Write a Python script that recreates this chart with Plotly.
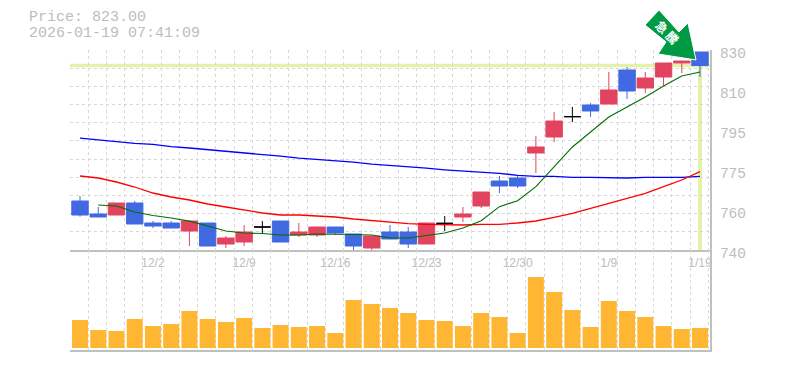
import plotly.graph_objects as go

# ---- data --------------------------------------------------------------
session = list(range(35))
open_px = [762.05, 756.2, 755.75, 761.15, 752.15, 752.15, 748.55, 752.15, 742.7, 743.6, 750.35, 753.05,
           746.75, 746.75, 750.35, 747.2, 740.9, 748.1, 748.1, 742.7, 752.0, 754.85, 759.8, 771.05,
           772.4, 783.65, 790.85, 800.0, 805.25, 805.7, 821.0, 812.9, 817.85, 824.15, 829.1]
high_px = [764.3, 759.35, 761.15, 762.05, 753.05, 753.05, 753.05, 752.15, 746.3, 751.25, 753.05, 753.05,
           752.15, 750.35, 750.35, 747.2, 746.3, 751.25, 750.35, 752.15, 755.3, 759.35, 766.1, 773.3,
           773.75, 791.3, 802.1, 804.35, 806.15, 820.1, 822.35, 820.1, 824.15, 825.05, 829.1]
low_px = [755.0, 754.85, 755.75, 751.7, 749.9, 749.9, 741.8, 741.8, 740.9, 741.8, 747.65, 743.6,
          745.85, 745.85, 746.75, 740.0, 740.0, 744.95, 740.9, 742.7, 748.55, 752.6, 758.9, 765.65,
          767.9, 774.65, 788.6, 797.6, 799.85, 805.7, 807.95, 810.65, 813.8, 819.65, 817.85]
close_px = [755.75, 754.85, 761.15, 751.7, 750.8, 749.9, 753.05, 741.8, 745.4, 748.1, 750.35, 743.6,
            748.1, 750.35, 747.65, 741.8, 746.3, 744.95, 742.7, 752.15, 752.0, 756.2, 766.1, 768.8,
            768.8, 786.35, 798.05, 800.0, 802.55, 812.0, 811.55, 817.4, 824.15, 825.05, 823.0]
volume = [28, 18, 17, 29, 22, 24, 37, 29, 26, 30, 20, 23, 21, 22, 15, 48, 44, 40,
          35, 28, 27, 22, 35, 31, 15, 71, 56, 38, 21, 47, 37, 31, 22, 19, 20]
ma_short = [None, 760.25, 759.8, 757.1, 755.5, 754.4, 753.0, 750.8, 748.55, 747.65, 747.4, 746.75,
            746.75, 747.2, 747.2, 747.0, 746.75, 745.4, 745.4, 746.6, 747.65, 749.9, 753.2, 759.5,
            762.2, 768.5, 777.5, 786.35, 793.1, 799.85, 804.35, 808.85, 813.8, 818.3, 820.1]
ma_mid = [773.3, 772.4, 770.6, 768.35, 765.65, 763.85, 762.5, 760.7, 759.35, 758.0, 756.65, 755.75,
          755.75, 755.3, 754.85, 753.95, 753.3, 752.4, 751.9, 751.5, 751.25, 751.25, 751.5, 751.55,
          752.15, 753.05, 754.7, 756.5, 758.75, 761.0, 763.25, 765.5, 768.5, 771.5, 775.25]
ma_long = [790.3, 789.5, 788.8, 788.0, 787.5, 786.5, 785.9, 785.2, 784.4, 783.5, 783.1, 782.2,
           781.3, 780.8, 780.05, 779.5, 778.6, 778.1, 777.35, 776.8, 776.1, 775.55, 775.0, 774.5,
           773.6, 773.15, 773.15, 772.7, 772.7, 772.4, 772.4, 772.7, 772.7, 772.7, 773.15]
date_idx = [4, 9, 14, 19, 24, 29, 34]
date_txt = ["12/2", "12/9", "12/16", "12/23", "12/30", "1/9", "1/19"]
price_ticks = [740, 758, 776, 794, 812, 830]
price_text = ["740", "760", "775", "795", "810", "830"]
last_price = 823.0
last_idx = 34

RED, BLUE = "#e24460", "#4169e1"
GRID, AXIS, TXT = "#d8d8d8", "#c0c0c0", "#bdbdbd"
HILITE = "#e2f2a8"
L, R, T, B = 70, 75, 50, 20
W, H = 785, 370


def px(x, y):
    return (x - L) / (W - L - R), (H - B - y) / (H - T - B)


def poly(points):
    c = [px(*p) for p in points]
    return "M" + " L".join(f"{a:.5f},{b:.5f}" for a, b in c) + " Z"


doji = [i for i in session if open_px[i] == close_px[i]]
real = [i for i in session if open_px[i] != close_px[i]]

fig = go.Figure()
for vals, col, wd in [(ma_long, "#0000ff", 1.3), (ma_mid, "#ff0000", 1.3), (ma_short, "#006e00", 1.1)]:
    fig.add_trace(go.Scatter(x=session, y=vals, mode="lines", line=dict(color=col, width=wd),
                             xaxis="x", yaxis="y", connectgaps=False))
fig.add_trace(go.Candlestick(
    x=[session[i] for i in real], open=[open_px[i] for i in real], high=[high_px[i] for i in real],
    low=[low_px[i] for i in real], close=[close_px[i] for i in real],
    increasing=dict(line=dict(color=RED, width=1), fillcolor=RED),
    decreasing=dict(line=dict(color=BLUE, width=1), fillcolor=BLUE),
    whiskerwidth=0, xaxis="x", yaxis="y"))
fig.add_trace(go.Candlestick(
    x=[session[i] for i in doji], open=[open_px[i] for i in doji], high=[high_px[i] for i in doji],
    low=[low_px[i] for i in doji], close=[close_px[i] for i in doji],
    increasing=dict(line=dict(color="#000000", width=1), fillcolor="#000000"),
    decreasing=dict(line=dict(color="#000000", width=1), fillcolor="#000000"),
    whiskerwidth=0, xaxis="x", yaxis="y"))
fig.add_trace(go.Bar(x=session, y=volume, width=0.877, marker=dict(color="#ffb733", line=dict(width=0)),
                     xaxis="x2", yaxis="y2"))

xgrid = dict(showgrid=True, gridcolor=GRID, griddash="3px,3px", gridwidth=1,
             tickmode="linear", tick0=-0.548, dtick=1)
common_x = dict(range=[-0.548, 34.548], showgrid=False, zeroline=False, showline=True,
                linecolor=AXIS, linewidth=2, ticks="", minor=xgrid, rangeslider=dict(visible=False),
                automargin=False)

shapes = [
    dict(type="line", xref="paper", yref="y", x0=0, x1=1, y0=last_price, y1=last_price,
         line=dict(color=HILITE, width=3.5), layer="below"),
    dict(type="line", xref="x", yref="y", x0=last_idx, x1=last_idx, y0=740, y1=last_price,
         line=dict(color=HILITE, width=4), layer="below"),
    dict(type="path", xref="paper", yref="paper",
         path=poly([(659, 10), (645, 25), (666, 42), (658, 54), (696, 60), (688, 23), (679, 32)]),
         fillcolor="#009944", line=dict(color="#ffffff", width=1), layer="above"),
]

ann = [
    dict(text="Price: 823.00", x=px(27, 0)[0], y=px(0, 18)[1], xanchor="left", yanchor="middle"),
    dict(text="2026-01-19 07:41:09", x=px(27, 0)[0], y=px(0, 33)[1], xanchor="left", yanchor="middle"),
]
for a in ann:
    a.update(xref="paper", yref="paper", showarrow=False, align="left",
             font=dict(family="Liberation Mono", size=15, color=TXT))
ann.append(dict(text="<b>急 騰</b>", x=px(667, 0)[0], y=px(0, 32)[1], xref="paper", yref="paper",
                showarrow=False, textangle=45, xanchor="center", yanchor="middle",
                font=dict(family="Noto Sans CJK JP", size=12, color="#ffffff")))

fig.update_layout(
    width=W, height=H, autosize=False, margin=dict(l=L, r=R, t=T, b=B, pad=0, autoexpand=False),
    paper_bgcolor="#ffffff", plot_bgcolor="#ffffff", showlegend=False, hovermode=False,
    boxgap=0.1, boxgroupgap=0, dragmode=False, shapes=shapes, annotations=ann,
    xaxis=dict(domain=[0, 1], anchor="y", tickmode="array", tickvals=date_idx, ticktext=date_txt,
               showticklabels=True, ticklabelstandoff=1,
               tickfont=dict(family="Liberation Sans", size=12, color=TXT), **common_x),
    xaxis2=dict(domain=[0, 1], anchor="y2", showticklabels=False, **common_x),
    yaxis=dict(domain=[1 / 3, 1], anchor="x", side="right", range=[740, 830], tickmode="array",
               tickvals=price_ticks, ticktext=price_text, showgrid=False, zeroline=False,
               showline=True, linecolor=AXIS, linewidth=2, ticks="", ticklabelstandoff=5,
               ticklabelshift=3, ticklabeloverflow="allow", automargin=False,
               tickfont=dict(family="Liberation Mono", size=14.5, color=TXT),
               minor=dict(showgrid=True, gridcolor=GRID, griddash="3px,3px", gridwidth=1,
                          tickmode="linear", tick0=740, dtick=90 / 11)),
    yaxis2=dict(domain=[0, 1 / 3], anchor="x2", side="right", range=[-2, 98], showgrid=False,
                zeroline=False, showline=True, linecolor=AXIS, linewidth=2, ticks="",
                showticklabels=False, automargin=False),
)

fig.write_html("out.html", config=dict(displayModeBar=False, staticPlot=True),
               post_script="document.body.style.margin='0';")
